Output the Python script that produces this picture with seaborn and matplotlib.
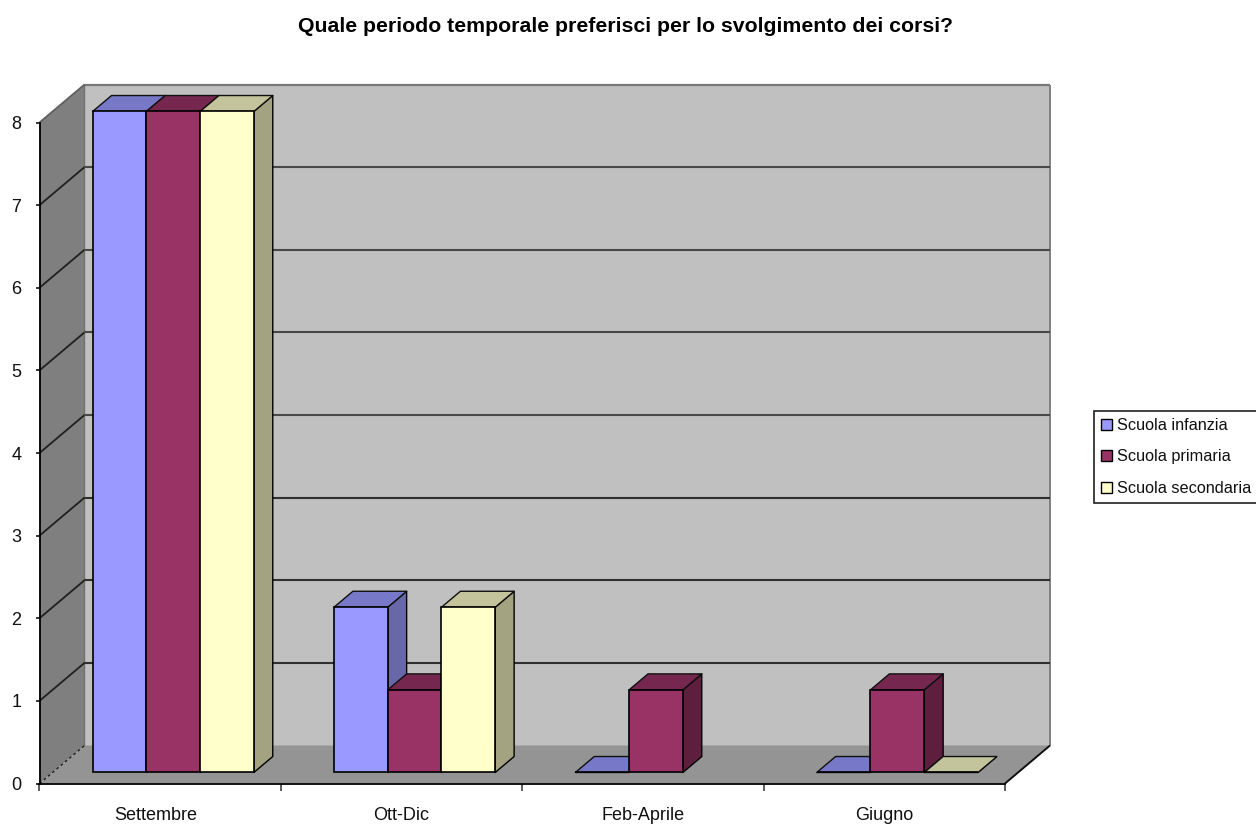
import numpy as np
import pandas as pd
import matplotlib
matplotlib.use("Agg")
import matplotlib.pyplot as plt
from matplotlib.patches import Polygon, Patch
from matplotlib.transforms import Affine2D
import seaborn as sns

categories = ["Settembre", "Ott-Dic", "Feb-Aprile", "Giugno"]
infanzia = [8, 2, 0, 0]
primaria = [8, 1, 1, 1]
secondaria = [8, 2, np.nan, 0]
series_names = ["Scuola infanzia", "Scuola primaria", "Scuola secondaria"]
title = "Quale periodo temporale preferisci per lo svolgimento dei corsi?"

front_colors = ["#9999FF", "#993366", "#FFFFCC"]
top_colors = ["#7878C8", "#752750", "#C4C49C"]
side_colors = ["#6868A8", "#5E1F3F", "#A3A382"]

W, H = 1256, 825
sns.set_style("white")
plt.rcParams["font.family"] = ["Liberation Sans", "DejaVu Sans"]

df = pd.DataFrame({
    "cat": categories * 3,
    "serie": [s for s in series_names for _ in categories],
    "val": infanzia + primaria + secondaria,
})

fig = plt.figure(figsize=(W / 100, H / 100), dpi=100, facecolor="white")
L, R, B, T = 39.5, 1005.0, 783.5, 122.5
ax = fig.add_axes([L / W, 1 - B / H, (R - L) / W, (B - T) / H])

sns.barplot(data=df, x="cat", y="val", hue="serie", order=categories,
            hue_order=series_names, palette=front_colors, saturation=1,
            width=0.668, gap=0, edgecolor="black", linewidth=1.2,
            legend=False, ax=ax)
ax.set_xlim(-0.5, 3.5)
ax.set_ylim(0, 8)
ax.patch.set_alpha(0)

# full depth of the chart box, in data units
DX = 45 / ((R - L) / 4)
DY = 38 / ((B - T) / 8)
BAR_FRONT, BAR_BACK = 0.29, 0.71


def proj(x, y, d):
    return (x + d * DX, y + d * DY)


def face(pts, color, z, edge="none", lw=0):
    ax.add_patch(Polygon(pts, closed=True, facecolor=color, edgecolor=edge,
                         linewidth=lw, zorder=z, clip_on=False, joinstyle="round"))


def line(p, q, color, lw, z=0.9, ls="-"):
    ax.plot([p[0], q[0]], [p[1], q[1]], color=color, lw=lw, ls=ls, zorder=z,
            clip_on=False, solid_capstyle="butt")


# Walls and floor
x0, x1 = -0.5, 3.5
face([proj(x0, 0, 1), proj(x1, 0, 1), proj(x1, 8, 1), proj(x0, 8, 1)], "#C0C0C0", 0.5)
face([proj(x0, 0, 0), proj(x0, 0, 1), proj(x0, 8, 1), proj(x0, 8, 0)], "#7F7F7F", 0.6)
face([proj(x0, 0, 0), proj(x1, 0, 0), proj(x1, 0, 1), proj(x0, 0, 1)], "#949494", 0.6)

line(proj(x0, 8, 1), proj(x1, 8, 1), "#777777", 1.6)
line(proj(x1, 0, 1), proj(x1, 8, 1), "#808080", 1.4)
line(proj(x0, 0, 1), proj(x0, 8, 1), "#707070", 1.0)
line(proj(x0, 0, 0), proj(x0, 0, 1), "#202020", 1.0, ls=(0, (2, 2)))
line(proj(x1, 0, 0), proj(x1, 0, 1), "#101010", 1.4)
for v in range(1, 9):
    line(proj(x0, v, 0), proj(x0, v, 1), "#202020" if v < 8 else "#606060", 1.3)
    if v < 8:
        line(proj(x0, v, 1), proj(x1, v, 1), "#303030" if v < 4 else "#484848", 1.5)

# Bars: front from seaborn, depth faces from the bar geometry
for s, cont in enumerate(ax.containers):
    for p in cont.patches:
        x, w, h = p.get_x(), p.get_width(), p.get_height()
        if not np.isfinite(h):
            continue
        z = 3 + x
        fr = lambda px, py: proj(px, py, BAR_FRONT)
        bk = lambda px, py: proj(px, py, BAR_BACK)
        face([fr(x + w, 0), bk(x + w, 0), bk(x + w, h), fr(x + w, h)],
             side_colors[s], z, "black", 1.0)
        face([fr(x, h), fr(x + w, h), bk(x + w, h), bk(x, h)],
             top_colors[s], z, "#101010", 1.0)
        p.set_xy(fr(x, 0))
        p.set_zorder(z + 0.01)
        p.set_clip_on(False)

# Axes decoration
sns.despine(ax=ax, top=True, right=True)
for side in ("left", "bottom"):
    ax.spines[side].set_color("black")
    ax.spines[side].set_linewidth(1.3)
    ax.spines[side].set_zorder(2)
ax.set_xlabel("")
ax.set_ylabel("")
ax.set_yticks(range(0, 9))
ax.set_xticks(np.arange(-0.5, 4, 1))
ax.set_xticklabels([])
ax.set_xticks(range(len(categories)), labels=categories, minor=True)
ax.tick_params(axis="y", which="major", left=True, length=3.2, width=1.1,
               color="black", labelsize=13, pad=10, labelcolor="#101010")
ax.tick_params(axis="x", which="major", bottom=True, length=5, width=1.1, color="#303030")
ax.tick_params(axis="x", which="minor", bottom=False, length=0, labelsize=13,
               pad=17, labelcolor="#101010")
first = ax.get_xticklabels(minor=True)[0]
first.set_transform(first.get_transform() + Affine2D().translate(-4, 0))

fig.text(625 / W, 1 - 26 / H, title, ha="center", va="center",
         fontsize=15.35, fontweight="bold", color="black")

handles = [Patch(facecolor=c, edgecolor="black", linewidth=1.0) for c in front_colors]
leg = fig.legend(handles, series_names, loc="upper left",
                 bbox_to_anchor=(1094 / W, 1 - 410.5 / H), fontsize=11.7,
                 frameon=True, fancybox=False, framealpha=1, edgecolor="#202020",
                 handlelength=0.65, handleheight=0.65, handletextpad=0.3,
                 labelspacing=1.02, borderpad=0.45, borderaxespad=0,
                 labelcolor="#101010")
leg.get_frame().set_linewidth(1.2)

fig.savefig("out.png", dpi=100, facecolor="white")
